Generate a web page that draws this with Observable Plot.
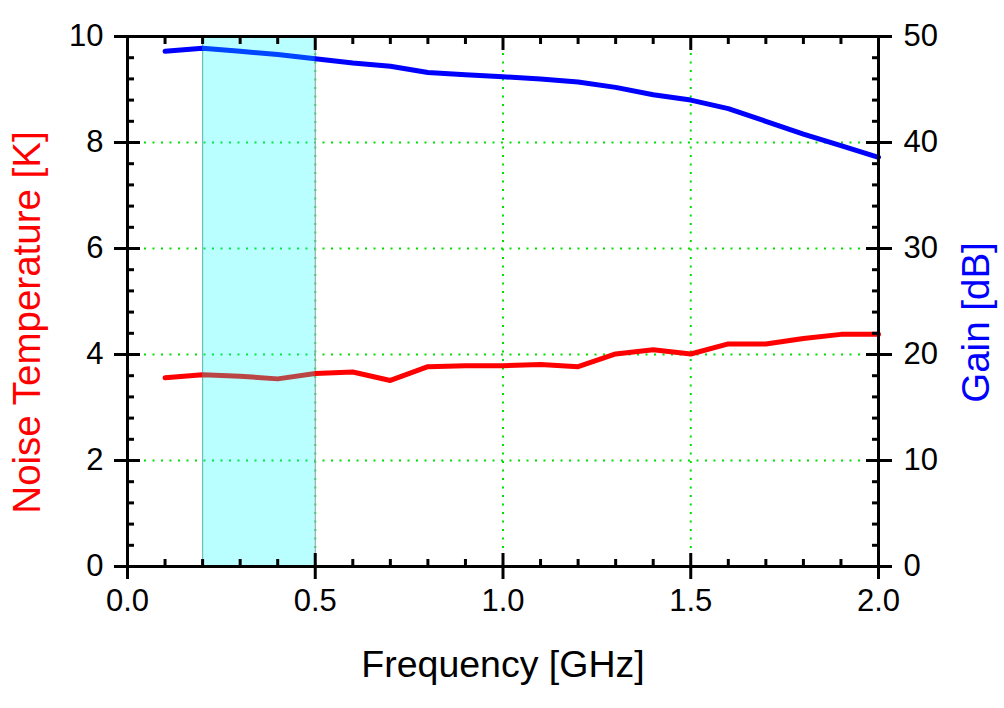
<!DOCTYPE html>
<html>
<head>
<meta charset="utf-8">
<script src="https://cdn.jsdelivr.net/npm/d3@7"></script>
<script src="https://cdn.jsdelivr.net/npm/@observablehq/plot@0.6"></script>
<style>
  html, body { margin: 0; padding: 0; background: #fff; }
  #chart { width: 1004px; height: 708px; }
</style>
</head>
<body>
<div id="chart"></div>
<script>
// Data
const freqGHz = [0.1, 0.2, 0.3, 0.4, 0.5, 0.6, 0.7, 0.8, 0.9, 1.0,
                 1.1, 1.2, 1.3, 1.4, 1.5, 1.6, 1.7, 1.8, 1.9, 2.0];
const noiseTempK = [3.56, 3.62, 3.59, 3.54, 3.64, 3.67, 3.51, 3.77, 3.79, 3.79,
                    3.81, 3.77, 4.01, 4.09, 4.01, 4.20, 4.20, 4.30, 4.38, 4.38];
const gainDB = [48.6, 48.9, 48.6, 48.3, 47.9, 47.5, 47.2, 46.6, 46.4, 46.2,
                46.0, 45.7, 45.2, 44.5, 44.0, 43.2, 42.0, 40.8, 39.7, 38.6];

const bandGHz = [0.2, 0.5];

const freqMajorTicks = [0, 0.5, 1.0, 1.5, 2.0];
const freqMinorTicks = [0.1, 0.2, 0.3, 0.4, 0.6, 0.7, 0.8, 0.9, 1.1, 1.2, 1.3, 1.4, 1.6, 1.7, 1.8, 1.9];
const noiseMajorTicks = [0, 2, 4, 6, 8, 10];
const noiseMinorTicks = [0.4, 0.8, 1.2, 1.6, 2.4, 2.8, 3.2, 3.6, 4.4, 4.8, 5.2, 5.6, 6.4, 6.8, 7.2, 7.6, 8.4, 8.8, 9.2, 9.6];
const gainMajorTicks = [0, 10, 20, 30, 40, 50];
const gainMinorTicks = [2, 4, 6, 8, 12, 14, 16, 18, 22, 24, 26, 28, 32, 34, 36, 38, 42, 44, 46, 48];
const gridFreq = [0.5, 1.0, 1.5];
const gridNoise = [2, 4, 6, 8];

const xTitle = "Frequency [GHz]";
const yLeftTitle = "Noise Temperature [K]";
const yRightTitle = "Gain [dB]";

const gainScale = 5; // 50 dB on the right corresponds to 10 K on the left

const noiseRows = freqGHz.map((f, i) => ({f, v: noiseTempK[i]}));
const gainRows = freqGHz.map((f, i) => ({f, v: gainDB[i] / gainScale}));
const bandRows = [{x1: bandGHz[0], x2: bandGHz[1]}];

const FS = 31;
const TFS = 38.5;
const XTFS = 37.5;
const AX = 3;

const chart = Plot.plot({
  width: 1004,
  height: 708,
  marginLeft: 127,
  marginRight: 126,
  marginTop: 36,
  marginBottom: 142,
  style: {fontFamily: "'Liberation Sans', Arial, sans-serif", fontSize: FS + "px", background: "#fff", color: "#000"},
  x: {domain: [0, 2], nice: false},
  y: {domain: [0, 10], nice: false},
  marks: [
    Plot.gridX(gridFreq, {stroke: "#00e000", strokeOpacity: 1, strokeWidth: 2, strokeDasharray: "2,6.5"}),
    Plot.gridY(gridNoise, {stroke: "#00e000", strokeOpacity: 1, strokeWidth: 2, strokeDasharray: "2,6.5"}),
    Plot.ruleX(bandGHz, {stroke: "#8fabab", strokeWidth: 1.2}),
    Plot.line(noiseRows, {x: "f", y: "v", stroke: "#ff0000", strokeWidth: 5}),
    Plot.line(gainRows, {x: "f", y: "v", stroke: "#0000ff", strokeWidth: 5}),
    Plot.rect(bandRows, {x1: "x1", x2: "x2", y1: 0, y2: 10, fill: "#00ffff", fillOpacity: 0.27}),
    Plot.frame({stroke: "#000", strokeWidth: AX}),
    // bottom axis
    Plot.axisX(freqMajorTicks, {anchor: "bottom", tickSize: 13, tickPadding: 9, strokeWidth: AX, fontSize: FS, tickFormat: d3.format(".1f"), label: null}),
    Plot.axisX(freqMajorTicks, {anchor: "bottom", tickSize: -13, strokeWidth: AX, fill: "none", label: null}),
    Plot.axisX(freqMinorTicks, {anchor: "bottom", tickSize: -7, strokeWidth: AX, fill: "none", label: null}),
    // top axis
    Plot.axisX(freqMajorTicks, {anchor: "top", tickSize: -13, strokeWidth: AX, fill: "none", label: null}),
    Plot.axisX(freqMinorTicks, {anchor: "top", tickSize: -7, strokeWidth: AX, fill: "none", label: null}),
    // left axis
    Plot.axisY(noiseMajorTicks, {anchor: "left", tickSize: 13, tickPadding: 11, strokeWidth: AX, fontSize: FS, tickFormat: d => String(d), label: null}),
    Plot.axisY(noiseMajorTicks, {anchor: "left", tickSize: -13, strokeWidth: AX, fill: "none", label: null}),
    Plot.axisY(noiseMinorTicks, {anchor: "left", tickSize: -7, strokeWidth: AX, fill: "none", label: null}),
    // right axis (gain)
    Plot.axisY(gainMajorTicks.map(g => g / gainScale), {anchor: "right", tickSize: 13, tickPadding: 12, strokeWidth: AX, fontSize: FS, tickFormat: d => String(Math.round(d * gainScale)), label: null}),
    Plot.axisY(gainMajorTicks.map(g => g / gainScale), {anchor: "right", tickSize: -13, strokeWidth: AX, fill: "none", label: null}),
    Plot.axisY(gainMinorTicks.map(g => g / gainScale), {anchor: "right", tickSize: -7, strokeWidth: AX, fill: "none", label: null}),
    // titles
    Plot.text([xTitle], {text: d => d, frameAnchor: "bottom", dy: 110, fontSize: XTFS, fill: "#000"}),
    Plot.text([yLeftTitle], {text: d => d, frameAnchor: "left", textAnchor: "middle", dx: -100, dy: 21, rotate: -90, fontSize: TFS, fill: "#ff0000"}),
    Plot.text([yRightTitle], {text: d => d, frameAnchor: "right", textAnchor: "middle", dx: 98, dy: 21, rotate: -90, fontSize: TFS, fill: "#0000ff"})
  ]
});
document.getElementById("chart").appendChild(chart);
</script>
</body>
</html>
